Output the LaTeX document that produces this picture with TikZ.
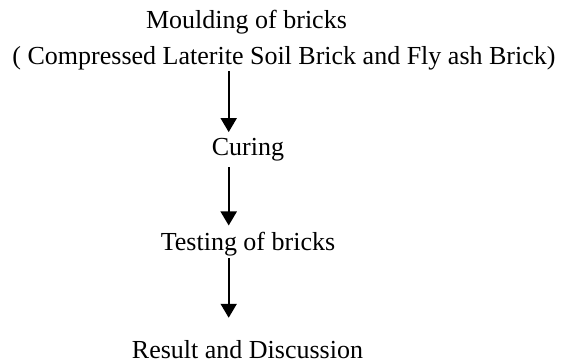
\documentclass[tikz,border=0pt]{standalone}
\usepackage{fontspec}
\setmainfont{Liberation Serif}
\usetikzlibrary{arrows.meta}
\begin{document}
\begin{tikzpicture}[x=1pt,y=-1pt,
  lbl/.style={font=\fontsize{26}{30}\selectfont, inner sep=0pt, anchor=base},
  flow/.style={line width=2pt, -{Triangle[width=16pt,length=14pt]}}]
\useasboundingbox (0,0) rectangle (566,363);
\node[lbl] (m1) at (246.5,29) {Moulding of bricks};
\node[lbl] (m2) at (284,65) {( Compressed Laterite Soil Brick and Fly ash Brick)};
\node[lbl] (c) at (248,156) {Curing};
\node[lbl] (t) at (248,251) {Testing of bricks};
\node[lbl] (r) at (247.5,358.5) {Result and Discussion};
\coordinate (ax) at (228.7,0);
\draw[flow] ([yshift=-0.4pt]m2.south -| ax) -- ([yshift=6.5pt]c.north -| ax);
\draw[flow] ([yshift=-5.3pt]c.south -| ax) -- ([yshift=7pt]t.north -| ax);
\draw[flow] ([yshift=-1.3pt]t.south -| ax) -- ([yshift=22.5pt]r.north -| ax);
\end{tikzpicture}
\end{document}
